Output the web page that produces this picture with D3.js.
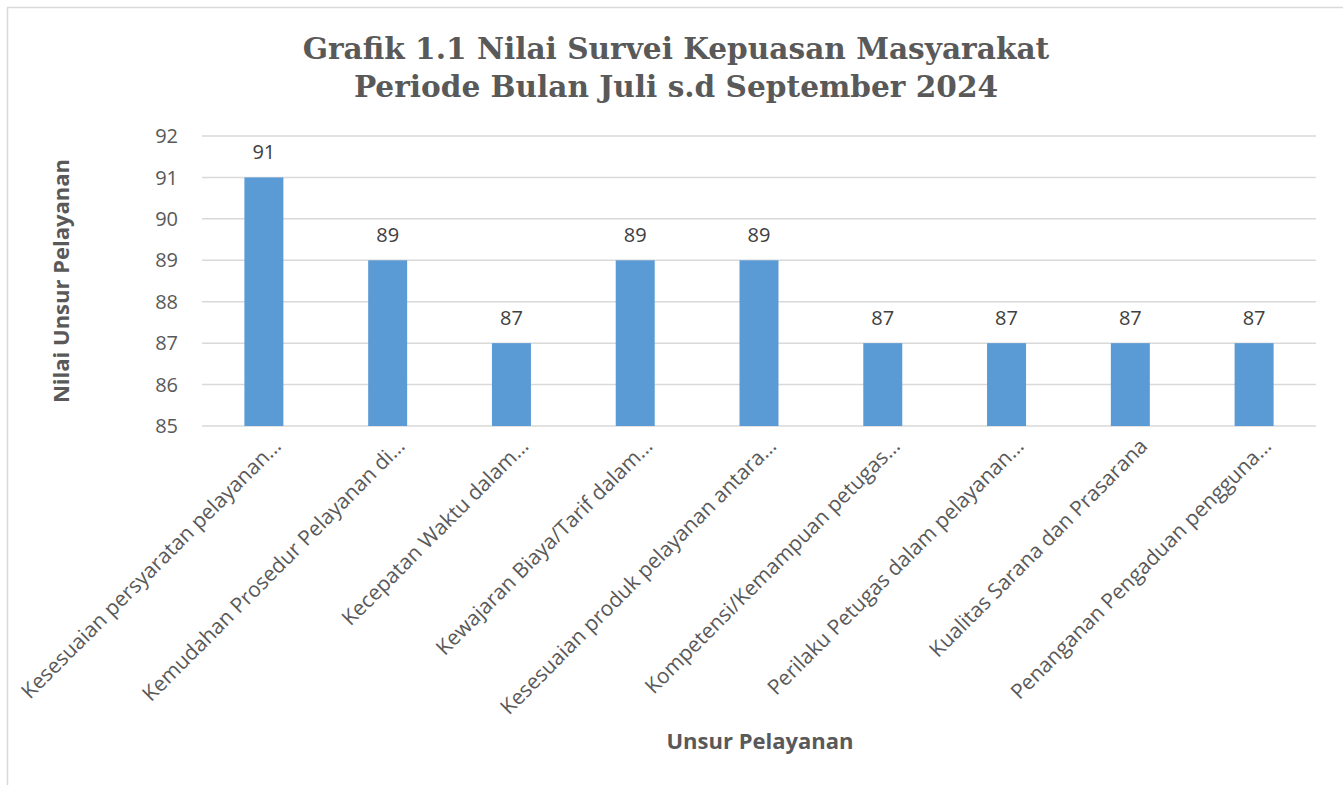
<!DOCTYPE html>
<html>
<head>
    <meta charset="utf-8">
    <style>
        body { margin: 0; background: white; }
        svg text { fill: #595959; }
    </style>
    <script src="https://cdn.jsdelivr.net/npm/d3@7"></script>
</head>
<body>
    <script>
        // Data
        var categories = [
            "Kesesuaian persyaratan pelayanan…",
            "Kemudahan Prosedur Pelayanan di…",
            "Kecepatan Waktu dalam…",
            "Kewajaran Biaya/Tarif dalam…",
            "Kesesuaian produk pelayanan antara…",
            "Kompetensi/Kemampuan petugas…",
            "Perilaku Petugas dalam pelayanan…",
            "Kualitas Sarana dan Prasarana",
            "Penanganan Pengaduan pengguna…"
        ]
        var values = [91, 89, 87, 89, 89, 87, 87, 87, 87]
        var yTicks = [85, 86, 87, 88, 89, 90, 91, 92]
        var titleLines = ["Grafik 1.1 Nilai Survei Kepuasan Masyarakat", "Periode Bulan Juli s.d September 2024"]

        var width = 1343, height = 785
        var plot = {left: 202, right: 1316, top: 136, bottom: 426}

        var svg = d3.select("body").append("svg")
            .attr("width", width)
            .attr("height", height)

        // outer frame
        svg.append("rect")
            .attr("x", 7.5).attr("y", 7.5)
            .attr("width", width).attr("height", height)
            .attr("fill", "none")
            .attr("stroke", "#d9d9d9")
            .attr("stroke-width", 1.5)

        var x = d3.scaleBand()
            .domain(categories)
            .range([plot.left, plot.right])
            .paddingInner(0.685)
            .paddingOuter(0.3425)

        var y = d3.scaleLinear()
            .domain([85, 92])
            .range([plot.bottom, plot.top])

        // gridlines
        svg.selectAll(".grid")
            .data(yTicks)
            .enter().append("line")
            .attr("x1", plot.left).attr("x2", plot.right)
            .attr("y1", d => y(d)).attr("y2", d => y(d))
            .attr("stroke", "#d9d9d9")
            .attr("stroke-width", 1.5)

        // y tick labels
        svg.selectAll(".ytick")
            .data(yTicks)
            .enter().append("text")
            .attr("x", 178)
            .attr("y", d => y(d))
            .attr("dy", "0.36em")
            .attr("text-anchor", "end")
            .style("font", "20px 'Open Sans'")
            .text(d => d)

        // bars
        svg.selectAll(".bar")
            .data(values)
            .enter().append("rect")
            .attr("x", (d, i) => x(categories[i]))
            .attr("width", x.bandwidth())
            .attr("y", d => y(d))
            .attr("height", d => y(85) - y(d))
            .attr("fill", "#5b9bd5")

        // data labels
        svg.selectAll(".label")
            .data(values)
            .enter().append("text")
            .attr("x", (d, i) => x(categories[i]) + x.bandwidth() / 2)
            .attr("y", d => y(d) - 18)
            .attr("text-anchor", "middle")
            .style("font", "20px 'Open Sans'")
            .style("fill", "#404040")
            .text(d => d)

        // category labels
        svg.selectAll(".xtick")
            .data(categories)
            .enter().append("text")
            .attr("transform", d => `translate(${x(d) + x.bandwidth() / 2 + 14}, 443) rotate(-45)`)
            .attr("text-anchor", "end")
            .attr("dy", "0.3em")
            .style("font", "21px 'Open Sans'")
            .text(d => d)

        // title
        svg.selectAll(".title")
            .data(titleLines)
            .enter().append("text")
            .attr("x", 676)
            .attr("y", (d, i) => 59 + i * 38)
            .attr("text-anchor", "middle")
            .style("font", "bold 29.6px 'DejaVu Serif'")
            .text(d => d)

        // axis titles
        svg.append("text")
            .attr("x", 760).attr("y", 749)
            .attr("text-anchor", "middle")
            .style("font", "bold 22px 'Open Sans'")
            .text("Unsur Pelayanan")

        svg.append("text")
            .attr("transform", "translate(69, 281) rotate(-90)")
            .attr("text-anchor", "middle")
            .style("font", "bold 22px 'Open Sans'")
            .text("Nilai Unsur Pelayanan")
    </script>
</body>
</html>
